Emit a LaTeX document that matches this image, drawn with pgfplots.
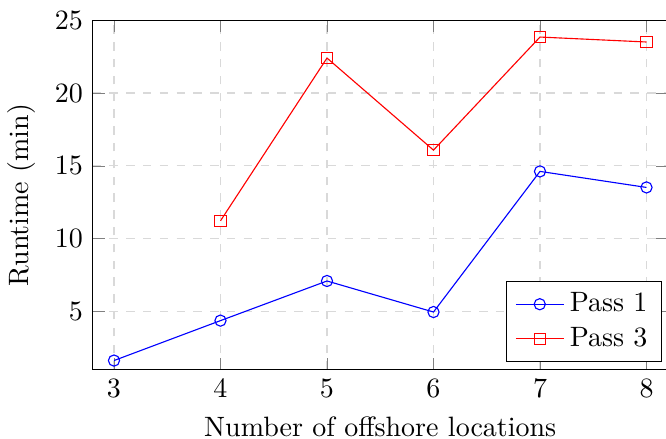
\documentclass[border=0pt]{standalone}
\usepackage{pgfplots}
\pgfplotsset{compat=1.18}
\begin{document}
\begin{tikzpicture}
\begin{axis}[
  scale only axis,
  width=205.4pt, height=124.9pt,
  xmin=2.8, xmax=8.2,
  ymin=1, ymax=25,
  xtick={3,4,5,6,7,8},
  ytick={5,10,15,20,25},
  grid=major,
  grid style={dashed, gray!30},
  xlabel={Number of offshore locations},
  ylabel={Runtime (min)},
  legend style={at={(0.99,0.022)}, anchor=south east},
  legend cell align=left,
]
\addplot[blue, mark=o] coordinates {(3,1.64) (4,4.38) (5,7.1) (6,4.97) (7,14.62) (8,13.52)};
\addlegendentry{Pass 1}
\addplot[red, mark=square] coordinates {(4,11.23) (5,22.4) (6,16.08) (7,23.84) (8,23.5)};
\addlegendentry{Pass 3}
\coordinate (SW) at (rel axis cs:0,0);
\end{axis}
\pgfresetboundingbox
\useasboundingbox ([shift={(-33.1pt,-24.6pt)}]SW) rectangle ([shift={(204.75pt,132.1pt)}]SW);
\end{tikzpicture}
\end{document}
